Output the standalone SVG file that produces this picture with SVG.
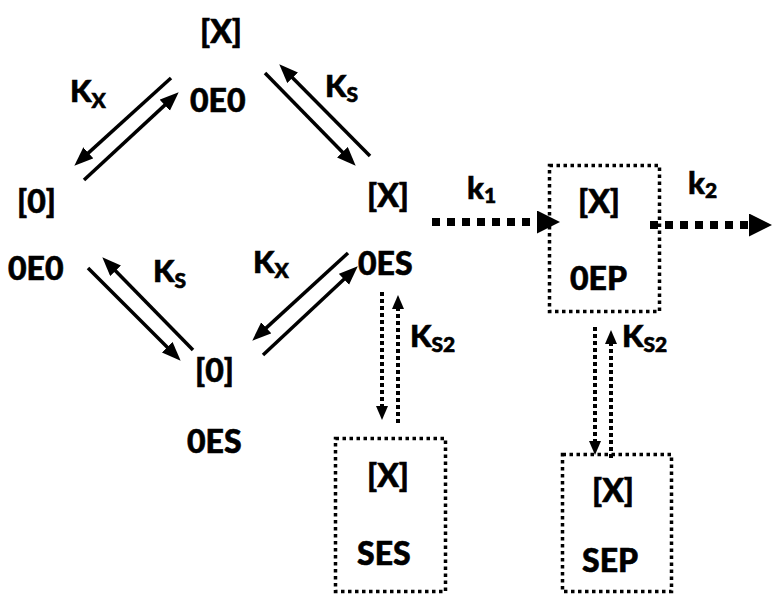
<svg xmlns="http://www.w3.org/2000/svg" width="772" height="595" viewBox="0 0 772 595">
<style>
text{font-family:Lato,"Liberation Sans",sans-serif;font-weight:900;fill:#000;stroke:#000;stroke-width:0.6}
.t{font-size:32px}
.k{font-size:31px}
.sub{font-size:21px}
.solid{stroke:#000;stroke-width:3.5;fill:none;marker-end:url(#ah)}
.vdot{stroke:#000;stroke-width:4;fill:none;stroke-dasharray:4 3;marker-end:url(#sh)}
.big{stroke:#000;stroke-width:8;fill:none;stroke-dasharray:8 7;marker-end:url(#bh)}
.box{fill:none;stroke:#000;stroke-width:3.5;stroke-dasharray:3.5 3.5}
</style>
<defs>
<marker id="ah" markerUnits="userSpaceOnUse" markerWidth="21" markerHeight="16" refX="10" refY="7.5" orient="auto"><path d="M0,0 L19,7.5 L0,15 z" fill="#000"/></marker>
<marker id="sh" markerUnits="userSpaceOnUse" markerWidth="16" markerHeight="14" refX="7" refY="6" orient="auto"><path d="M0,0 L14,6 L0,12 z" fill="#000"/></marker>
<marker id="bh" markerUnits="userSpaceOnUse" markerWidth="24" markerHeight="24" refX="3" refY="11.5" orient="auto"><path d="M0,0 L23,11.5 L0,23 z" fill="#000"/></marker>
</defs>
<rect width="772" height="595" fill="#fff"/>
<g id="connectors">
<line class="solid" x1="171" y1="78" x2="81" y2="159.6"/>
<line class="solid" x1="84" y1="180" x2="172.1" y2="98.4"/>
<line class="solid" x1="265" y1="73" x2="349.4" y2="159.3"/>
<line class="solid" x1="370" y1="156" x2="285.6" y2="70.7"/>
<line class="solid" x1="193" y1="350" x2="108.6" y2="263.7"/>
<line class="solid" x1="88" y1="268" x2="174.3" y2="354.3"/>
<line class="solid" x1="348" y1="253" x2="258.9" y2="334.6"/>
<line class="solid" x1="263" y1="355" x2="351.2" y2="272.5"/>
<line class="vdot" x1="382" y1="292" x2="382" y2="413"/>
<line class="vdot" x1="398" y1="423" x2="398" y2="302"/>
<line class="vdot" x1="595" y1="327" x2="595" y2="448"/>
<line class="vdot" x1="611" y1="458" x2="611" y2="337"/>
<line class="big" x1="432" y1="222" x2="540" y2="222"/>
<line class="big" x1="650" y1="225" x2="752" y2="225"/>
<text class="k" x="70" y="102">K<tspan class="sub" dy="6">X</tspan></text>
<text class="k" x="325" y="97">K<tspan class="sub" dy="5">S</tspan></text>
<text class="k" x="153" y="282">K<tspan class="sub" dy="6">S</tspan></text>
<text class="k" x="253" y="273">K<tspan class="sub" dy="5">X</tspan></text>
<text class="k" x="410" y="347">K<tspan class="sub" dy="5">S2</tspan></text>
<text class="k" x="622" y="347">K<tspan class="sub" dy="5">S2</tspan></text>
<text class="k" x="467" y="199">k<tspan class="sub" dy="4">1</tspan></text>
<text class="k" x="688" y="194">k<tspan class="sub" dy="4">2</tspan></text>
</g>
<g id="n_top"><text class="t" x="200" y="43">[X]</text><text class="t" x="190" y="112">0E0</text></g>
<g id="n_left"><text class="t" x="17" y="213">[0]</text><text class="t" x="8" y="280">0E0</text></g>
<g id="n_right"><text class="t" x="367" y="207">[X]</text><text class="t" x="358" y="275">0ES</text></g>
<g id="n_bottom"><text class="t" x="195" y="382">[0]</text><text class="t" x="187" y="453">0ES</text></g>
<g id="n_oep"><rect class="box" x="549.5" y="165.5" width="110" height="146"/><text class="t" x="578" y="213">[X]</text><text class="t" x="570" y="290">0EP</text></g>
<g id="n_ses"><rect class="box" x="335.5" y="438.5" width="110" height="153"/><text class="t" x="367" y="487">[X]</text><text class="t" x="357" y="565">SES</text></g>
<g id="n_sep"><rect class="box" x="562.5" y="454.5" width="109" height="137"/><text class="t" x="592" y="502">[X]</text><text class="t" x="582" y="572">SEP</text></g>
</svg>
